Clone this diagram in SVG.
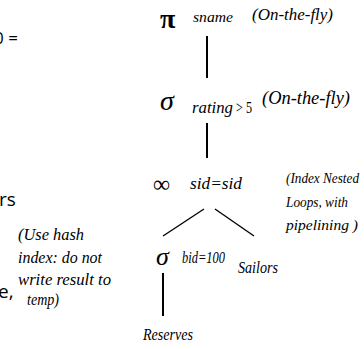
<svg xmlns="http://www.w3.org/2000/svg" width="364" height="349" viewBox="0 0 364 349">
<style>
text{fill:#000}
.op{font-family:'Liberation Serif','DejaVu Serif',serif}
.it{font-family:'Liberation Serif','DejaVu Serif',serif;font-style:italic}
.sans{font-family:'Open Sans','Liberation Sans',Arial,sans-serif}
.edge{stroke:#000;stroke-width:2;fill:none}
.diag{stroke:#000;stroke-width:1.4;fill:none}
</style>
<rect width="364" height="349" fill="#fff"/>
<g id="left-text">
<text class="sans" x="-6" y="44" font-size="17">0 =</text>
<text class="sans" x="-1" y="206" font-size="19">rs</text>
<text class="sans" x="-2" y="298" font-size="19">e,</text>
</g>
<g id="connectors">
<line class="edge" x1="207" y1="36" x2="207" y2="78"/>
<line class="edge" x1="207" y1="123" x2="207" y2="158"/>
<line class="diag" x1="204" y1="209" x2="163" y2="236"/>
<line class="diag" x1="215" y1="209" x2="254" y2="236"/>
<line class="edge" x1="163" y1="273" x2="163" y2="316"/>
</g>
<g id="project">
<text class="op" x="160" y="28" font-size="28" font-weight="bold">π</text>
<text class="it" x="193" y="22" font-size="15" textLength="40" lengthAdjust="spacingAndGlyphs">sname</text>
<text class="it" x="252" y="20" font-size="17" textLength="81" lengthAdjust="spacingAndGlyphs">(On-the-fly)</text>
</g>
<g id="select-rating">
<text class="op" x="160" y="110" font-size="28" font-style="italic">σ</text>
<text class="it" x="192" y="113" font-size="16" textLength="41" lengthAdjust="spacingAndGlyphs">rating</text>
<text class="op" x="236" y="113" font-size="16" textLength="16" lengthAdjust="spacingAndGlyphs">&gt; 5</text>
<text class="it" x="262" y="104" font-size="18" textLength="88" lengthAdjust="spacingAndGlyphs">(On-the-fly)</text>
</g>
<g id="join">
<text class="op" x="153" y="192" font-size="24">∞</text>
<text class="it" x="190" y="189" font-size="16" textLength="52" lengthAdjust="spacingAndGlyphs">sid=sid</text>
<text class="it" x="286" y="183" font-size="15" textLength="73" lengthAdjust="spacingAndGlyphs">(Index Nested</text>
<text class="it" x="286" y="207" font-size="15" textLength="62" lengthAdjust="spacingAndGlyphs">Loops, with</text>
<text class="it" x="286" y="230" font-size="15" textLength="72" lengthAdjust="spacingAndGlyphs">pipelining )</text>
</g>
<g id="select-bid">
<text class="op" x="156" y="265" font-size="26" font-style="italic">σ</text>
<text class="it" x="182" y="263" font-size="16" textLength="43" lengthAdjust="spacingAndGlyphs">bid=100</text>
<text class="it" x="18" y="240" font-size="16" textLength="66" lengthAdjust="spacingAndGlyphs">(Use hash</text>
<text class="it" x="18" y="263" font-size="16" textLength="84" lengthAdjust="spacingAndGlyphs">index: do not</text>
<text class="it" x="18" y="285" font-size="16" textLength="93" lengthAdjust="spacingAndGlyphs">write result to</text>
<text class="it" x="27" y="305" font-size="16" textLength="32" lengthAdjust="spacingAndGlyphs">temp)</text>
</g>
<g id="sailors">
<text class="it" x="238" y="273" font-size="16" textLength="40" lengthAdjust="spacingAndGlyphs">Sailors</text>
</g>
<g id="reserves">
<text class="it" x="143" y="340" font-size="16" textLength="50" lengthAdjust="spacingAndGlyphs">Reserves</text>
</g>
</svg>
